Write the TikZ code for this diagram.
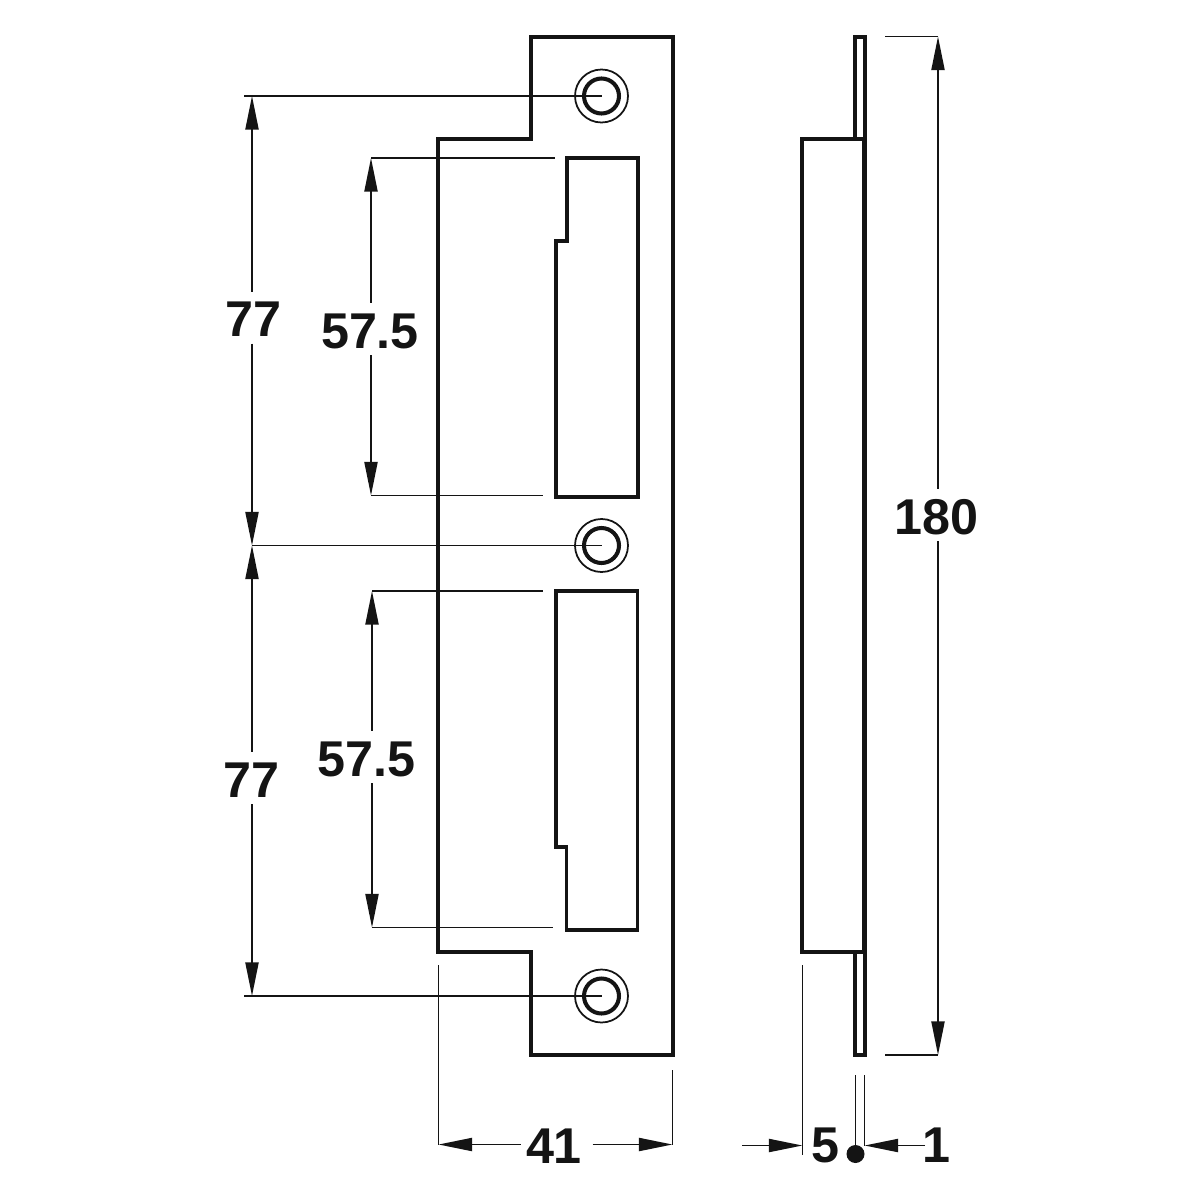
\documentclass[tikz,border=0pt]{standalone}
\usepackage{fontspec}
\setmainfont{Liberation Sans}
\usetikzlibrary{arrows.meta}
\definecolor{ink}{HTML}{141414}
\tikzset{
  outline/.style={draw=ink,line width=1.1pt,line join=miter},
  thin line/.style={draw=ink,line width=0.55pt},
  dimline/.style={thin line,-{Triangle[length=0.335cm,width=0.13cm]}},
  dimlabel/.style={font=\fontsize{14.3pt}{15pt}\bfseries,text=ink,inner sep=0pt,outer ysep=0.07cm,text height=0.38cm,text depth=0pt},
  ringouter/.style={draw=ink,line width=0.5pt},
  ringinner/.style={draw=ink,line width=1.15pt}
}
\begin{document}
\begin{tikzpicture}[x=0.01cm,y=-0.01cm]
\useasboundingbox (0,0) rectangle (1200,1200);
% front view plate
\draw[outline] (531,37) -- (673,37) -- (673,1055) -- (531,1055) -- (531,952) -- (438,952) -- (438,139) -- (531,139) -- cycle;
% upper and lower windows
\draw[outline] (567,158) -- (638,158) -- (638,497) -- (556,497) -- (556,241) -- (567,241) -- cycle;
\draw[outline] (556,591) -- (637.5,591) -- (637.5,930) -- (566.5,930) -- (566.5,847) -- (556,847) -- cycle;
% screw holes
\coordinate (h1) at (601.5,96);
\coordinate (h2) at (601.5,545.5);
\coordinate (h3) at (601.5,996);
\foreach \h in {h1,h2,h3}{
  \draw[ringouter] (\h) circle[radius=26.5];
  \draw[ringinner] (\h) circle[radius=17.5];
}
% side view
\draw[outline] (802,139) -- (864,139) -- (864,952) -- (802,952) -- cycle;
\draw[outline] (855,139) -- (855,37) -- (865,37) -- (865,1055) -- (855,1055) -- (855,952);
% extension lines
\coordinate (e1) at (244,96);
\coordinate (e2) at (252,545.5);
\coordinate (e3) at (244,996);
\coordinate (d1) at (252,96);
\coordinate (d3) at (252,996);
\draw[thin line] (e1) -- (h1);
\draw[thin line] (e2) -- (h2);
\draw[thin line] (e3) -- (h3);
\coordinate (u1a) at (371,158);
\coordinate (u1b) at (555,158);
\coordinate (u2a) at (371,495.5);
\coordinate (u2b) at (543,495.5);
\coordinate (l1a) at (372,591);
\coordinate (l1b) at (543,591);
\coordinate (l2a) at (372,927.5);
\coordinate (l2b) at (553,927.5);
\draw[thin line] (u1a) -- (u1b);
\draw[thin line] (u2a) -- (u2b);
\draw[thin line] (l1a) -- (l1b);
\draw[thin line] (l2a) -- (l2b);
\coordinate (t1) at (885,36.5);
\coordinate (t2) at (938,36.5);
\coordinate (t3) at (885,1055);
\coordinate (t4) at (938,1055);
\draw[thin line] (t1) -- (t2);
\draw[thin line] (t3) -- (t4);
\coordinate (b1) at (438.5,965);
\coordinate (b2) at (438.5,1144.5);
\coordinate (b3) at (672.5,1070);
\coordinate (b4) at (672.5,1144.5);
\coordinate (b5) at (802.5,965);
\coordinate (b6) at (802.5,1155);
\coordinate (b7) at (855.5,1075);
\coordinate (b8) at (855.5,1154);
\coordinate (b9) at (864.5,1075);
\coordinate (b10) at (864.5,1145.5);
\draw[thin line] (b1) -- (b2);
\draw[thin line] (b3) -- (b4);
\draw[thin line] (b5) -- (b6);
\draw[thin line] (b7) -- (b8);
\draw[thin line] (b9) -- (b10);
\fill[ink] (b8) circle[radius=9];
% labels
\node[dimlabel] (n77a) at (253.7,317.7) {77};
\node[dimlabel] (n77b) at (251.7,778) {77};
\node[dimlabel] (n57a) at (370,329) {57.5};
\node[dimlabel] (n57b) at (366.7,757) {57.5};
\node[dimlabel] (n180) at (936.7,515) {180};
\node[dimlabel] (n41) at (554,1144) {41};
\node[dimlabel] (n5) at (825.5,1143) {5};
\node[dimlabel] (n1) at (936,1143) {1};
% dimension arrows
\draw[dimline] (n77a.north -| d1) -- (d1);
\draw[dimline] (n77a.south -| d1) -- (e2);
\draw[dimline] (n77b.north -| d1) -- (e2);
\draw[dimline] (n77b.south -| d1) -- (d3);
\draw[dimline] (n57a.north -| u1a) -- (u1a);
\draw[dimline] (n57a.south -| u1a) -- (u2a);
\draw[dimline] (n57b.north -| l1a) -- (l1a);
\draw[dimline] (n57b.south -| l1a) -- (l2a);
\draw[dimline] (n180.north -| t2) -- (t2);
\draw[dimline] (n180.south -| t2) -- (t4);
\coordinate (a41l) at (520.7,1144.5);
\coordinate (a41r) at (592.7,1144.5);
\coordinate (a5) at (742,1145.5);
\coordinate (a5t) at (802.5,1145.5);
\coordinate (a1) at (925,1145.5);
\draw[dimline] (a41l) -- (b2);
\draw[dimline] (a41r) -- (b4);
\draw[dimline] (a5) -- (a5t);
\draw[dimline] (a1) -- (b10);
\end{tikzpicture}
\end{document}
